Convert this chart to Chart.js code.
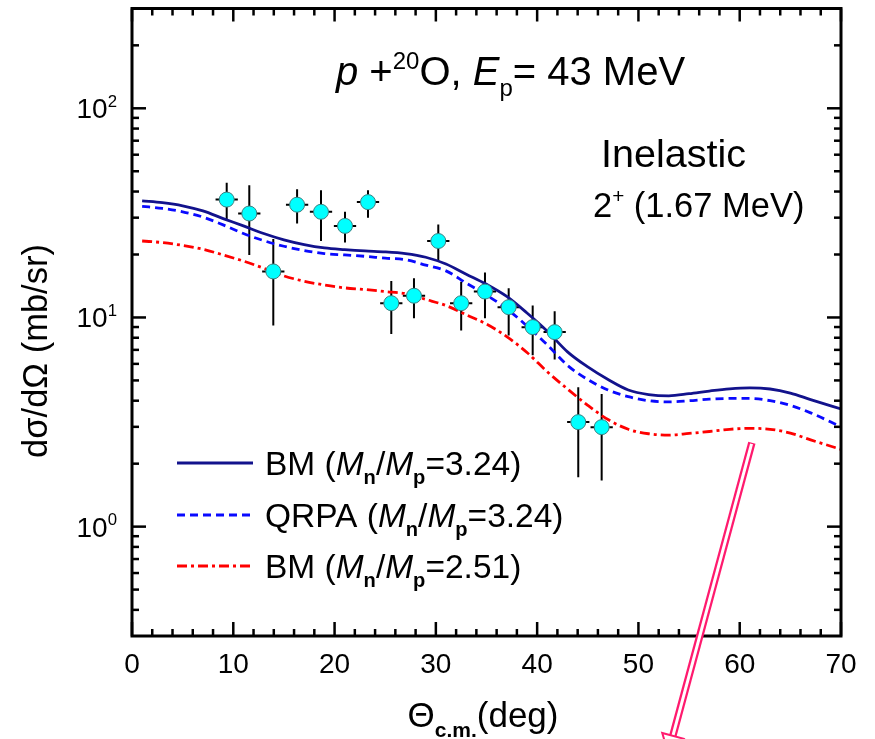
<!DOCTYPE html>
<html><head><meta charset="utf-8">
<script src="https://cdn.jsdelivr.net/npm/chart.js@4.4.0/dist/chart.umd.min.js"></script>
<style>html,body{margin:0;padding:0;background:#fff}#wrap{width:875px;height:739px;position:relative}</style>
</head><body><div id="wrap"><canvas id="c" width="875" height="739"></canvas></div>
<script>
// ---- data ----
const expTheta     = [9.35, 11.58, 13.95, 16.3, 18.66, 21.03, 23.3, 25.6, 27.84, 30.24, 32.5, 34.85, 37.19, 39.56, 41.73, 44.06, 46.37];
const expSigma     = [36.6, 31.4, 16.6, 34.6, 32.0, 27.4, 35.6, 11.7, 12.7, 23.2, 11.7, 13.3, 11.2, 8.99, 8.51, 3.16, 2.99];
const expSigmaHigh = [44.1, 42.9, 23.7, 41.0, 40.6, 32.0, 40.6, 14.95, 15.4, 27.8, 14.8, 16.4, 13.8, 11.4, 10.7, 4.64, 4.31];
const expSigmaLow  = [29.0, 19.9, 9.16, 28.1, 23.2, 22.8, 30.0, 8.33, 9.92, 18.5, 8.67, 9.92, 8.21, 6.6, 6.29, 1.72, 1.66];
const expThetaErr  = [1.1, 1.1, 1.1, 1.1, 1.1, 1.1, 1.1, 1.1, 1.1, 1.1, 1.1, 1.1, 1.1, 1.1, 1.1, 1.1, 1.1];

const curveTheta   = [1, 3, 5, 7, 9, 11, 13, 15, 17, 19, 21, 23, 25, 27, 29, 31, 33, 35, 37, 39, 41, 43, 45, 47, 49, 51, 53, 55, 57, 59, 61, 63, 65, 67, 70];
const bmCurve324   = [36.1, 35.4, 34.2, 32.3, 29.7, 27.4, 25.2, 23.5, 22.3, 21.5, 21.1, 20.8, 20.6, 20.2, 19.4, 18.0, 16.1, 14.4, 12.6, 10.5, 8.6, 6.85, 5.8, 5.05, 4.5, 4.28, 4.22, 4.32, 4.45, 4.56, 4.61, 4.55, 4.35, 4.05, 3.65];
const qrpaCurve324 = [34.0, 33.2, 32.0, 30.2, 27.7, 25.2, 23.3, 21.9, 20.9, 20.2, 19.9, 19.6, 19.2, 18.9, 17.8, 16.7, 14.6, 12.8, 11.0, 9.1, 7.4, 5.9, 5.05, 4.5, 4.18, 4.0, 3.95, 4.0, 4.07, 4.1, 4.1, 4.0, 3.8, 3.5, 3.0];
const bmCurve251   = [23.2, 22.8, 22.1, 21.2, 19.9, 18.6, 17.2, 15.8, 14.9, 14.3, 13.85, 13.6, 13.3, 13.0, 12.2, 11.4, 10.3, 9.3, 8.1, 6.8, 5.5, 4.55, 3.8, 3.25, 2.92, 2.78, 2.74, 2.79, 2.85, 2.92, 2.95, 2.92, 2.8, 2.6, 2.34];

const xTickMajor = [0, 10, 20, 30, 40, 50, 60, 70];
const xTickMinor = [2, 4, 6, 8, 12, 14, 16, 18, 22, 24, 26, 28, 32, 34, 36, 38, 42, 44, 46, 48, 52, 54, 56, 58, 62, 64, 66, 68];
const yTickMajor = [1, 10, 100];
const yTickExp   = ['0', '1', '2'];
const yTickMinor = [0.4, 0.5, 0.6, 0.7, 0.8, 0.9, 2, 3, 4, 5, 6, 7, 8, 9, 20, 30, 40, 50, 60, 70, 80, 90, 200];

const arrowFrom = {x: 61.2, y: 2.52};
const arrowTo   = {x: 53.4, y: 0.1};

const FONT = '"Liberation Sans", Arial, Helvetica, sans-serif';

function fnt(size, italic, bold) {
  return (italic ? 'italic ' : '') + (bold ? 'bold ' : '') + size + 'px ' + FONT;
}
// rich text: parts [{t, i, b, sup, sub}]
function drawRich(ctx, x, y, parts, size, align) {
  const measure = p => {
    const s = (p.sup || p.sub) ? size * 0.6 : size;
    ctx.font = fnt(s, p.i, p.b);
    return ctx.measureText(p.t).width;
  };
  let total = 0;
  parts.forEach(p => total += measure(p));
  let cx = x;
  if (align === 'center') cx = x - total / 2;
  else if (align === 'right') cx = x - total;
  ctx.textBaseline = 'alphabetic';
  ctx.textAlign = 'left';
  parts.forEach(p => {
    const w = measure(p);
    let dy = 0;
    if (p.sup) dy = -size * 0.40;
    if (p.sub) dy = size * 0.28;
    ctx.fillText(p.t, cx, y + dy);
    cx += w;
  });
}

const errorBars = {
  id: 'errorBars',
  beforeDatasetsDraw(chart) {
    const {ctx, scales: {x, y}} = chart;
    ctx.save();
    ctx.strokeStyle = '#000';
    ctx.lineWidth = 2;
    for (let i = 0; i < expTheta.length; i++) {
      const px = x.getPixelForValue(expTheta[i]);
      const py = y.getPixelForValue(expSigma[i]);
      ctx.beginPath();
      ctx.moveTo(px, y.getPixelForValue(expSigmaHigh[i]));
      ctx.lineTo(px, y.getPixelForValue(expSigmaLow[i]));
      ctx.moveTo(x.getPixelForValue(expTheta[i] - expThetaErr[i]), py);
      ctx.lineTo(x.getPixelForValue(expTheta[i] + expThetaErr[i]), py);
      ctx.stroke();
    }
    ctx.restore();
  }
};

const frame = {
  id: 'frame',
  afterDraw(chart) {
    const {ctx, chartArea: a, scales: {x, y}} = chart;
    ctx.save();
    ctx.strokeStyle = '#000';
    ctx.lineCap = 'butt';
    const seg = (x1, y1, x2, y2) => { ctx.beginPath(); ctx.moveTo(x1, y1); ctx.lineTo(x2, y2); ctx.stroke(); };
    ctx.lineWidth = 2.5;
    xTickMajor.forEach(v => { const p = x.getPixelForValue(v); seg(p, a.bottom, p, a.bottom - 14); seg(p, a.top, p, a.top + 13); });
    xTickMinor.forEach(v => { const p = x.getPixelForValue(v); seg(p, a.bottom, p, a.bottom - 7); seg(p, a.top, p, a.top + 7); });
    yTickMajor.forEach(v => { const p = y.getPixelForValue(v); seg(a.left, p, a.left + 14, p); seg(a.right, p, a.right - 14, p); });
    yTickMinor.forEach(v => { const p = y.getPixelForValue(v); seg(a.left, p, a.left + 7, p); seg(a.right, p, a.right - 7, p); });
    ctx.lineWidth = 3;
    ctx.strokeRect(a.left, a.top, a.right - a.left, a.bottom - a.top);

    ctx.fillStyle = '#000';
    // x tick labels
    ctx.font = fnt(28);
    ctx.textAlign = 'center';
    ctx.textBaseline = 'alphabetic';
    xTickMajor.forEach(v => ctx.fillText(String(v), x.getPixelForValue(v), 673));
    // y tick labels 10^n
    yTickMajor.forEach((v, i) => {
      const p = y.getPixelForValue(v);
      drawRich(ctx, 117, p + 10, [{t: '10'}, {t: yTickExp[i], sup: true}], 28, 'right');
    });
    // axis titles
    drawRich(ctx, 483, 727, [{t: 'Θ'}, {t: 'c.m.', sub: true, b: true}, {t: '(deg)'}], 35, 'center');
    ctx.save();
    ctx.translate(47, 351);
    ctx.rotate(-Math.PI / 2);
    ctx.font = fnt(34.5);
    ctx.textAlign = 'center';
    ctx.textBaseline = 'alphabetic';
    ctx.fillText('dσ/dΩ (mb/sr)', 0, 0);
    ctx.restore();

    // annotations
    drawRich(ctx, 336, 85, [{t: 'p', i: true}, {t: ' +'}, {t: '20', sup: true}, {t: 'O, '}, {t: 'E', i: true}, {t: 'p', sub: true}, {t: '= 43 MeV'}], 40, 'left');
    drawRich(ctx, 601, 167, [{t: 'Inelastic'}], 39.5, 'left');
    drawRich(ctx, 593, 217, [{t: '2'}, {t: '+', sup: true}, {t: ' (1.67 MeV)'}], 34.5, 'left');

    // legend
    const ds = chart.data.datasets;
    const rows = [
      {y: 463, d: ds[0], lbl: [{t: 'BM ('}, {t: 'M', i: true}, {t: 'n', sub: true, b: true}, {t: '/'}, {t: 'M', i: true}, {t: 'p', sub: true, b: true}, {t: '=3.24)'}]},
      {y: 515, d: ds[1], lbl: [{t: 'QRPA ('}, {t: 'M', i: true}, {t: 'n', sub: true, b: true}, {t: '/'}, {t: 'M', i: true}, {t: 'p', sub: true, b: true}, {t: '=3.24)'}]},
      {y: 566, d: ds[2], lbl: [{t: 'BM ('}, {t: 'M', i: true}, {t: 'n', sub: true, b: true}, {t: '/'}, {t: 'M', i: true}, {t: 'p', sub: true, b: true}, {t: '=2.51)'}]}
    ];
    rows.forEach(r => {
      ctx.save();
      ctx.strokeStyle = r.d.borderColor;
      ctx.lineWidth = r.d.borderWidth;
      ctx.setLineDash(r.d.borderDash || []);
      seg(177, r.y, 253, r.y);
      ctx.restore();
      drawRich(ctx, 265, r.y + 12, r.lbl, 33.5, 'left');
    });

    // pink arrow annotation
    const x1 = x.getPixelForValue(arrowFrom.x), y1 = y.getPixelForValue(arrowFrom.y);
    const x2 = x.getPixelForValue(arrowTo.x), y2 = y.getPixelForValue(arrowTo.y);
    ctx.strokeStyle = '#ff1a6e';
    ctx.lineWidth = 7.5;
    seg(x1, y1, x2, y2);
    ctx.strokeStyle = '#fff';
    ctx.lineWidth = 3;
    seg(x1 + (x2 - x1) * 0.004, y1 + (y2 - y1) * 0.004, x2, y2);
    const ang = Math.atan2(y2 - y1, x2 - x1);
    const nx = -Math.sin(ang), ny = Math.cos(ang);
    ctx.strokeStyle = '#ff1a6e';
    ctx.lineWidth = 2;
    ctx.beginPath();
    ctx.moveTo(x2 + nx * 11, y2 + ny * 11);
    ctx.lineTo(x2 + Math.cos(ang) * 18, y2 + Math.sin(ang) * 18);
    ctx.lineTo(x2 - nx * 11, y2 - ny * 11);
    ctx.closePath();
    ctx.stroke();
    ctx.restore();
  }
};

const pts = (xs, ys) => xs.map((v, i) => ({x: v, y: ys[i]}));

new Chart(document.getElementById('c'), {
  type: 'scatter',
  data: {
    datasets: [
      {type: 'line', label: 'BM (Mn/Mp=3.24)', data: pts(curveTheta, bmCurve324), borderColor: '#12128c', borderWidth: 2.8, pointRadius: 0, fill: false, cubicInterpolationMode: 'monotone', order: 3},
      {type: 'line', label: 'QRPA (Mn/Mp=3.24)', data: pts(curveTheta, qrpaCurve324), borderColor: '#0a0aff', borderWidth: 2.8, borderDash: [8, 5], pointRadius: 0, fill: false, cubicInterpolationMode: 'monotone', order: 2},
      {type: 'line', label: 'BM (Mn/Mp=2.51)', data: pts(curveTheta, bmCurve251), borderColor: '#ff0000', borderWidth: 2.8, borderDash: [10, 4, 3, 4], pointRadius: 0, fill: false, cubicInterpolationMode: 'monotone', order: 1},
      {type: 'scatter', label: 'Exp', data: pts(expTheta, expSigma), pointRadius: 7.5, pointHoverRadius: 7.5, backgroundColor: '#00ffff', borderColor: '#3f7f7f', borderWidth: 1, order: 0}
    ]
  },
  options: {
    responsive: false, animation: false, devicePixelRatio: 1,
    layout: {padding: {top: 6, right: 34, left: 0, bottom: 0}},
    plugins: {legend: {display: false}, tooltip: {enabled: false}},
    scales: {
      x: {type: 'linear', min: 0, max: 70, ticks: {display: false}, grid: {display: false}, border: {display: false}, afterFit(s) { s.height = 103; }},
      y: {type: 'logarithmic', min: 0.3, max: 300, ticks: {display: false}, grid: {display: false}, border: {display: false}, afterFit(s) { s.width = 132; }}
    }
  },
  plugins: [errorBars, frame]
});
</script>
</body></html>
